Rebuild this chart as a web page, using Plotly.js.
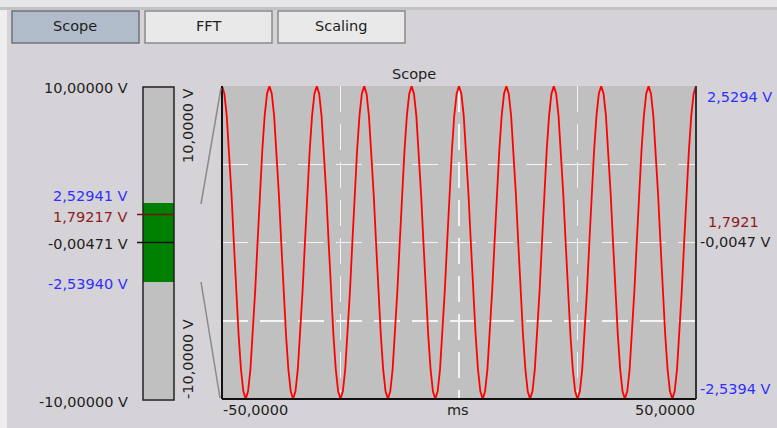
<!DOCTYPE html>
<html>
<head>
<meta charset="utf-8">
<script src="https://cdn.plot.ly/plotly-3.0.1.min.js"></script>
<style>html,body{margin:0;padding:0;background:#d5d3d8;}#chart{width:777px;height:428px;}</style>
</head>
<body>
<div id="chart"></div>
<script>
// ---- data ----
const timeStartMs = -50;
const timeStepMs = 0.5;
const signalVolts = [
 2.529, 2.405, 2.045, 1.484, 0.778, -0.005, -0.788, -1.494, -2.055, -2.415, -2.539, -2.415, -2.055, -1.494, -0.788, -0.005, 0.778, 1.484, 2.045, 2.405,
 2.529, 2.405, 2.045, 1.484, 0.778, -0.005, -0.788, -1.494, -2.055, -2.415, -2.539, -2.415, -2.055, -1.494, -0.788, -0.005, 0.778, 1.484, 2.045, 2.405,
 2.529, 2.405, 2.045, 1.484, 0.778, -0.005, -0.788, -1.494, -2.055, -2.415, -2.539, -2.415, -2.055, -1.494, -0.788, -0.005, 0.778, 1.484, 2.045, 2.405,
 2.529, 2.405, 2.045, 1.484, 0.778, -0.005, -0.788, -1.494, -2.055, -2.415, -2.539, -2.415, -2.055, -1.494, -0.788, -0.005, 0.778, 1.484, 2.045, 2.405,
 2.529, 2.405, 2.045, 1.484, 0.778, -0.005, -0.788, -1.494, -2.055, -2.415, -2.539, -2.415, -2.055, -1.494, -0.788, -0.005, 0.778, 1.484, 2.045, 2.405,
 2.529, 2.405, 2.045, 1.484, 0.778, -0.005, -0.788, -1.494, -2.055, -2.415, -2.539, -2.415, -2.055, -1.494, -0.788, -0.005, 0.778, 1.484, 2.045, 2.405,
 2.529, 2.405, 2.045, 1.484, 0.778, -0.005, -0.788, -1.494, -2.055, -2.415, -2.539, -2.415, -2.055, -1.494, -0.788, -0.005, 0.778, 1.484, 2.045, 2.405,
 2.529, 2.405, 2.045, 1.484, 0.778, -0.005, -0.788, -1.494, -2.055, -2.415, -2.539, -2.415, -2.055, -1.494, -0.788, -0.005, 0.778, 1.484, 2.045, 2.405,
 2.529, 2.405, 2.045, 1.484, 0.778, -0.005, -0.788, -1.494, -2.055, -2.415, -2.539, -2.415, -2.055, -1.494, -0.788, -0.005, 0.778, 1.484, 2.045, 2.405,
 2.529, 2.405, 2.045, 1.484, 0.778, -0.005, -0.788, -1.494, -2.055, -2.415, -2.539, -2.415, -2.055, -1.494, -0.788, -0.005, 0.778, 1.484, 2.045, 2.405,
 2.529
];
const xRange = [-50, 50];
const yRange = [-2.5394, 2.5294];
const xGridVals = [-25, 0, 25];
const yGridVals = [-1.2722, -0.005, 1.262];
const xTickLabels = ['-50,0000', 'ms', '50,0000'];
const gaugeRange = [-10, 10];
const gaugeMax = 2.52941;
const gaugeMin = -2.53940;
const gaugeRms = 1.79217;
const gaugeMean = -0.00471;
const gaugeLabels = ['10,00000 V', '2,52941 V', '1,79217 V', '-0,00471 V', '-2,53940 V', '-10,00000 V'];
const gaugeRotLabels = ['10,0000 V', '-10,0000 V'];
const rightLabels = ['2,5294 V', '1,7921', '-0,0047 V', '-2,5394 V'];
const tabLabels = ['Scope', 'FFT', 'Scaling'];
const chartTitle = 'Scope';

// ---- layout helpers ----
const W = 777, H = 428;
const px = v => v / W;
const py = v => 1 - v / H;
const FONT = 'DejaVu Sans, Verdana, sans-serif';
const FS = 14.5;
const BLUE = '#2f2fff', DRED = '#8b1c1c', TXT = '#1e1e1e';

const plotL = 222, plotR = 696, plotT = 86, plotB = 399;
const gL = 143, gR = 174;

const traces = [
  {
    type: 'scatter', mode: 'lines',
    x0: timeStartMs, dx: timeStepMs, y: signalVolts,
    line: {color: '#ff0000', width: 1.8},
    xaxis: 'x', yaxis: 'y', hoverinfo: 'skip'
  },
  {
    type: 'bar', x: [0.5], y: [gaugeMax - gaugeMin], base: [gaugeMin], width: [1],
    marker: {color: '#008000', line: {width: 0}},
    xaxis: 'x2', yaxis: 'y2', hoverinfo: 'skip'
  }
];

const shapes = [];
// window chrome
shapes.push({type:'rect', xref:'paper', yref:'paper', x0:0, x1:1, y0:py(7), y1:1, fillcolor:'#e6e5e8', line:{width:0}, layer:'below'});
shapes.push({type:'rect', xref:'paper', yref:'paper', x0:0, x1:1, y0:py(10), y1:py(7), fillcolor:'#c3c2c5', line:{width:0}, layer:'below'});
shapes.push({type:'rect', xref:'paper', yref:'paper', x0:0, x1:px(7), y0:0, y1:py(10), fillcolor:'#eeeeef', line:{width:0}, layer:'below'});
// tabs
const tabs = [[12,139,'#b1bccb','#6e737a'], [145,272,'#e9e9ea','#8a8a8a'], [278,405,'#e9e9ea','#8a8a8a']];
tabs.forEach(t => shapes.push({type:'rect', xref:'paper', yref:'paper', x0:px(t[0]), x1:px(t[1]), y0:py(43), y1:py(11), fillcolor:t[2], line:{color:t[3], width:1.5}}));
// main plot borders
shapes.push({type:'line', xref:'paper', yref:'paper', x0:px(plotL), x1:px(plotL), y0:py(plotB), y1:py(plotT), line:{color:'#111', width:2}});
shapes.push({type:'line', xref:'paper', yref:'paper', x0:px(plotL), x1:px(plotR), y0:py(plotB), y1:py(plotB), line:{color:'#111', width:2}});
shapes.push({type:'line', xref:'paper', yref:'paper', x0:px(plotR), x1:px(plotR), y0:py(plotB), y1:py(plotT), line:{color:'#333', width:2}});
// gauge border
shapes.push({type:'rect', xref:'paper', yref:'paper', x0:px(gL), x1:px(gR), y0:py(plotB+1), y1:py(plotT+1), line:{color:'#222', width:1.5}});
// gauge markers
shapes.push({type:'line', xref:'paper', yref:'y2', x0:px(137), x1:px(gR), y0:gaugeRms, y1:gaugeRms, line:{color:'#7a1010', width:1.5}});
shapes.push({type:'line', xref:'paper', yref:'y2', x0:px(137), x1:px(gR), y0:gaugeMean, y1:gaugeMean, line:{color:'#111', width:1.5}});
// zoom connector lines
shapes.push({type:'line', xref:'paper', yref:'paper', x0:px(221), y0:py(88), x1:px(201), y1:py(204), line:{color:'#8a8a8a', width:1.5}});
shapes.push({type:'line', xref:'paper', yref:'paper', x0:px(201), y0:py(282), x1:px(220), y1:py(398), line:{color:'#8a8a8a', width:1.5}});

const ann = [];
const A = (text, x, y, xanchor, color, extra) => ann.push(Object.assign({
  text, xref:'paper', yref:'paper', x:px(x), y:py(y), xanchor, yanchor:'middle',
  showarrow:false, font:{family:FONT, size:FS, color}
}, extra || {}));
// tabs text
A(tabLabels[0], 75, 26, 'center', TXT);
A(tabLabels[1], 208, 26, 'center', TXT);
A(tabLabels[2], 341, 26, 'center', TXT);
// title
A(chartTitle, 414, 74, 'center', TXT);
// gauge labels
const gaugeLabelY = [88, 196, 217, 244, 284, 402];
const gaugeLabelC = [TXT, BLUE, DRED, TXT, BLUE, TXT];
gaugeLabels.forEach((t, i) => A(t, 130, gaugeLabelY[i], 'right', gaugeLabelC[i]));
// rotated labels
A(gaugeRotLabels[0], 188, 126, 'center', TXT, {textangle:-90});
A(gaugeRotLabels[1], 188, 359, 'center', TXT, {textangle:-90});
// right labels
A(rightLabels[0], 705, 97, 'left', BLUE);
A(rightLabels[1], 706, 222, 'left', DRED);
A(rightLabels[2], 698, 242, 'left', TXT);
A(rightLabels[3], 698, 389, 'left', BLUE);
// x labels
A(xTickLabels[0], 221, 410, 'left', TXT);
A(xTickLabels[1], 458, 410, 'center', TXT);
A(xTickLabels[2], 697, 410, 'right', TXT);

const layout = {
  width: W, height: H,
  margin: {l:0, r:0, t:0, b:0, pad:0},
  paper_bgcolor: '#d5d3d8',
  plot_bgcolor: '#c0c0c0',
  showlegend: false,
  xaxis: {domain:[px(plotL), px(plotR)], range:xRange, tickvals:xGridVals, showticklabels:false, ticks:'',
          showgrid:true, gridcolor:'#f4f4f4', gridwidth:1.5, griddash:'26px,12px', zeroline:false, showline:false, fixedrange:true},
  yaxis: {domain:[py(plotB), py(plotT)], range:yRange, tickvals:yGridVals, showticklabels:false, ticks:'',
          showgrid:true, gridcolor:'#f4f4f4', gridwidth:1.5, griddash:'26px,12px', zeroline:false, showline:false, fixedrange:true},
  xaxis2: {domain:[px(gL), px(gR)], range:[0,1], anchor:'y2', showticklabels:false, ticks:'', showgrid:false, zeroline:false, showline:false},
  yaxis2: {domain:[py(plotB), py(plotT)], range:gaugeRange, anchor:'x2', showticklabels:false, ticks:'', showgrid:false, zeroline:false, showline:false},
  shapes, annotations: ann,
  bargap: 0
};

Plotly.newPlot('chart', traces, layout, {staticPlot:true, displayModeBar:false});
</script>
</body>
</html>
